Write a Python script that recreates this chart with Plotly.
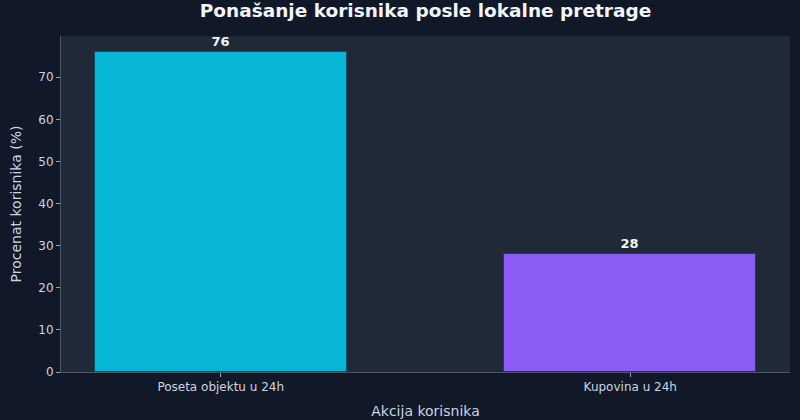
import plotly.graph_objects as go

categories = ["Poseta objektu u 24h", "Kupovina u 24h"]
values = [76, 28]
colors = ["#06b6d4", "#8b5cf6"]
edge_colors = ["#0e4f63", "#3b2a7a"]

fig = go.Figure()
fig.add_trace(go.Bar(
    x=[0, 1],
    y=values,
    width=0.615,
    marker=dict(color=colors, line=dict(color=edge_colors, width=1)),
    text=[str(v) for v in values],
    textposition="outside",
    textfont=dict(family="DejaVu Sans", size=13, color="#f1f5f9", weight="bold"),
    cliponaxis=False,
))

fig.update_layout(
    width=800, height=420,
    margin=dict(l=61, r=10, t=36, b=48, autoexpand=False),
    paper_bgcolor="#111827",
    plot_bgcolor="#1f2937",
    font=dict(family="DejaVu Sans", color="#cbd5e1"),
    title=dict(text="<b>Ponašanje korisnika posle lokalne pretrage</b>",
               x=0.5, xref="paper", xanchor="center", y=0.975, yanchor="middle",
               font=dict(size=18.5, color="#f1f5f9", family="DejaVu Sans")),
    showlegend=False,
    bargap=0,
)
fig.update_xaxes(
    range=[-0.39, 1.39],
    automargin=False,
    tickvals=[0, 1], ticktext=categories,
    tickfont=dict(size=12, color="#cbd5e1"),
    ticks="outside", ticklen=4, tickcolor="#94a3b8",
    showgrid=False, zeroline=False,
    showline=True, linecolor="#4b5563", linewidth=1,
    title=dict(text="Akcija korisnika", font=dict(size=14, color="#cbd5e1"), standoff=12),
)
fig.update_yaxes(
    range=[0, 79.8],
    automargin=False,
    tickvals=[0, 10, 20, 30, 40, 50, 60, 70],
    tickfont=dict(size=12, color="#cbd5e1"),
    ticks="outside", ticklen=4, tickcolor="#94a3b8",
    showgrid=False, zeroline=False,
    showline=True, linecolor="#4b5563", linewidth=1,
    title=dict(text="Procenat korisnika (%)", font=dict(size=14, color="#cbd5e1"), standoff=13),
)

fig.write_html("out.html")
